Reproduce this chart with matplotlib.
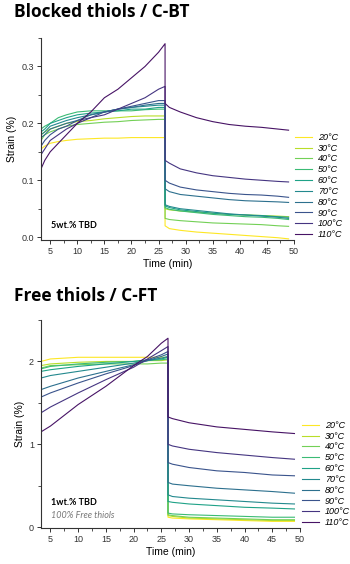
import numpy as np
import matplotlib
matplotlib.use("Agg")
import matplotlib.pyplot as plt
from matplotlib.ticker import MultipleLocator

plt.rcParams['font.family'] = ['Liberation Sans', 'DejaVu Sans']

temps = ['20°C', '30°C', '40°C', '50°C', '60°C', '70°C', '80°C', '90°C', '100°C', '110°C']

# Blocked thiols / C-BT : creep (0-26 min) then recovery
bt_t_creep = [3.3, 4, 5, 6.5, 8, 10, 12.5, 15, 17.5, 20, 22.5, 25, 26.2]
bt_creep = [
    [0.155, 0.160, 0.165, 0.168, 0.170, 0.172, 0.173, 0.174, 0.174, 0.175, 0.175, 0.175, 0.175],
    [0.180, 0.185, 0.190, 0.195, 0.200, 0.203, 0.205, 0.208, 0.210, 0.212, 0.213, 0.213, 0.213],
    [0.170, 0.180, 0.185, 0.190, 0.195, 0.198, 0.200, 0.202, 0.203, 0.205, 0.206, 0.207, 0.207],
    [0.190, 0.195, 0.200, 0.210, 0.215, 0.220, 0.222, 0.222, 0.222, 0.222, 0.224, 0.225, 0.225],
    [0.185, 0.190, 0.200, 0.205, 0.210, 0.215, 0.218, 0.220, 0.222, 0.225, 0.225, 0.228, 0.228],
    [0.180, 0.185, 0.195, 0.200, 0.205, 0.210, 0.215, 0.220, 0.225, 0.228, 0.230, 0.232, 0.232],
    [0.175, 0.180, 0.190, 0.195, 0.200, 0.205, 0.215, 0.220, 0.225, 0.228, 0.232, 0.235, 0.235],
    [0.160, 0.170, 0.180, 0.190, 0.195, 0.205, 0.210, 0.220, 0.225, 0.230, 0.235, 0.240, 0.240],
    [0.145, 0.155, 0.170, 0.180, 0.190, 0.200, 0.210, 0.215, 0.225, 0.235, 0.245, 0.260, 0.265],
    [0.120, 0.135, 0.150, 0.165, 0.180, 0.200, 0.220, 0.245, 0.260, 0.280, 0.300, 0.325, 0.340],
]
bt_t_rec = [26.2, 27, 29, 32, 35, 38, 41, 44, 47, 49]
bt_rec = [
    [0.020, 0.015, 0.012, 0.009, 0.007, 0.005, 0.003, 0.001, -0.001, -0.003],
    [0.050, 0.048, 0.046, 0.044, 0.042, 0.040, 0.039, 0.038, 0.037, 0.036],
    [0.033, 0.031, 0.029, 0.027, 0.025, 0.024, 0.023, 0.022, 0.020, 0.019],
    [0.052, 0.049, 0.046, 0.043, 0.040, 0.038, 0.036, 0.035, 0.033, 0.031],
    [0.055, 0.052, 0.048, 0.045, 0.042, 0.040, 0.039, 0.038, 0.036, 0.035],
    [0.057, 0.054, 0.050, 0.047, 0.044, 0.041, 0.039, 0.037, 0.035, 0.033],
    [0.085, 0.080, 0.075, 0.072, 0.069, 0.066, 0.064, 0.063, 0.062, 0.061],
    [0.100, 0.095, 0.088, 0.083, 0.080, 0.077, 0.075, 0.074, 0.072, 0.070],
    [0.135, 0.130, 0.120, 0.113, 0.108, 0.105, 0.102, 0.100, 0.098, 0.097],
    [0.235, 0.228, 0.220, 0.210, 0.203, 0.198, 0.195, 0.193, 0.190, 0.188],
]

# Free thiols / C-FT
ft_t_creep = [3.3, 5, 10, 15, 20, 22.5, 25, 26.2]
ft_creep = [
    [2.00, 2.03, 2.05, 2.05, 2.05, 2.05, 2.05, 2.05],
    [1.95, 1.97, 1.99, 2.00, 2.00, 2.01, 2.01, 2.02],
    [1.92, 1.95, 1.96, 1.97, 1.97, 1.97, 1.98, 1.98],
    [1.91, 1.94, 1.97, 1.99, 2.00, 2.01, 2.02, 2.03],
    [1.88, 1.90, 1.94, 1.97, 2.00, 2.02, 2.03, 2.05],
    [1.80, 1.83, 1.88, 1.93, 1.98, 2.01, 2.04, 2.06],
    [1.66, 1.70, 1.80, 1.88, 1.96, 2.01, 2.06, 2.09],
    [1.57, 1.62, 1.74, 1.85, 1.95, 2.02, 2.08, 2.12],
    [1.38, 1.45, 1.62, 1.78, 1.93, 2.03, 2.13, 2.18],
    [1.15, 1.22, 1.48, 1.70, 1.95, 2.06, 2.22, 2.28],
]
ft_t_rec = [26.2, 27, 30, 35, 40, 45, 49]
ft_rec = [
    [0.12, 0.11, 0.10, 0.09, 0.08, 0.07, 0.07],
    [0.14, 0.13, 0.11, 0.10, 0.09, 0.08, 0.08],
    [0.15, 0.14, 0.12, 0.11, 0.10, 0.09, 0.09],
    [0.17, 0.16, 0.15, 0.14, 0.13, 0.12, 0.12],
    [0.31, 0.30, 0.28, 0.26, 0.24, 0.23, 0.22],
    [0.39, 0.37, 0.35, 0.33, 0.31, 0.29, 0.28],
    [0.54, 0.52, 0.50, 0.47, 0.45, 0.43, 0.41],
    [0.78, 0.76, 0.72, 0.68, 0.66, 0.63, 0.62],
    [1.00, 0.98, 0.94, 0.90, 0.87, 0.84, 0.82],
    [1.33, 1.31, 1.26, 1.21, 1.18, 1.15, 1.13],
]

colors = plt.cm.viridis(np.linspace(1.0, 0.05, len(temps)))

W, H = 350, 564
fig = plt.figure(figsize=(W / 100, H / 100), dpi=100)


def px_axes(left, top, right, bottom):
    return fig.add_axes([left / W, 1 - bottom / H, (right - left) / W, (bottom - top) / H])


def style_axes(ax, xlim, ylim, ymaj, ymin):
    ax.set_xlim(*xlim)
    ax.set_ylim(*ylim)
    ax.spines['top'].set_visible(False)
    ax.spines['right'].set_visible(False)
    for s in ['left', 'bottom']:
        ax.spines[s].set_linewidth(0.8)
        ax.spines[s].set_color('#333333')
    ax.xaxis.set_major_locator(MultipleLocator(5))
    ax.xaxis.set_minor_locator(MultipleLocator(2.5))
    ax.yaxis.set_major_locator(MultipleLocator(ymaj))
    ax.yaxis.set_minor_locator(MultipleLocator(ymin))
    ax.tick_params(which='major', length=3, width=0.7, labelsize=6.5, pad=2, colors='#333333')
    ax.tick_params(which='minor', length=2, width=0.6, colors='#333333')
    ax.set_xlabel('Time (min)', fontsize=7.5, labelpad=2)
    ax.set_ylabel('Strain (%)', fontsize=7.5, labelpad=3)


def draw(ax, tc, creep, tr, rec):
    for i, lab in enumerate(temps):
        t = list(tc) + list(tr)
        y = list(creep[i]) + list(rec[i])
        ax.plot(t, y, color=colors[i], lw=0.8, label=lab)


leg_kw = dict(frameon=False, handlelength=1.9, handletextpad=0.6, labelspacing=0.2,
              borderpad=0.0, borderaxespad=0.0, prop={'style': 'italic', 'size': 6.5})

# top panel
ax1 = px_axes(41, 38, 294, 240)
draw(ax1, bt_t_creep, bt_creep, bt_t_rec, bt_rec)
style_axes(ax1, (3.3, 50), (-0.005, 0.35), 0.1, 0.05)
ax1.yaxis.set_major_formatter(matplotlib.ticker.FormatStrFormatter('%.1f'))
ax1.text(0.04, 0.05, '5wt.% TBD', transform=ax1.transAxes, fontsize=6.5,
         fontweight='bold', ha='left', va='bottom', family='Lato')
fig.legend(loc='center left', bbox_to_anchor=(295 / W, 1 - 186 / H),
           handles=ax1.get_lines(), **leg_kw)

# bottom panel
ax2 = px_axes(41, 320, 300, 528)
draw(ax2, ft_t_creep, ft_creep, ft_t_rec, ft_rec)
style_axes(ax2, (3.3, 50), (-0.01, 2.5), 1, 0.5)
ax2.text(0.04, 0.1, '1wt.% TBD', transform=ax2.transAxes, fontsize=6.5,
         fontweight='bold', ha='left', va='bottom', family='Lato')
ax2.text(0.04, 0.04, '100% Free thiols', transform=ax2.transAxes, fontsize=6.5,
         style='italic', color='#777777', ha='left', va='bottom', family='Lato')
fig.legend(loc='center left', bbox_to_anchor=(302 / W, 1 - 474 / H),
           handles=ax2.get_lines(), **leg_kw)

fig.text(14 / W, 1 - 12 / H, 'Blocked thiols / C-BT', fontsize=12.5, fontweight='bold',
         family='Open Sans', ha='left', va='center')
fig.text(14 / W, 1 - 296 / H, 'Free thiols / C-FT', fontsize=12.5, fontweight='bold',
         family='Open Sans', ha='left', va='center')

fig.savefig('out.png', dpi=100)
